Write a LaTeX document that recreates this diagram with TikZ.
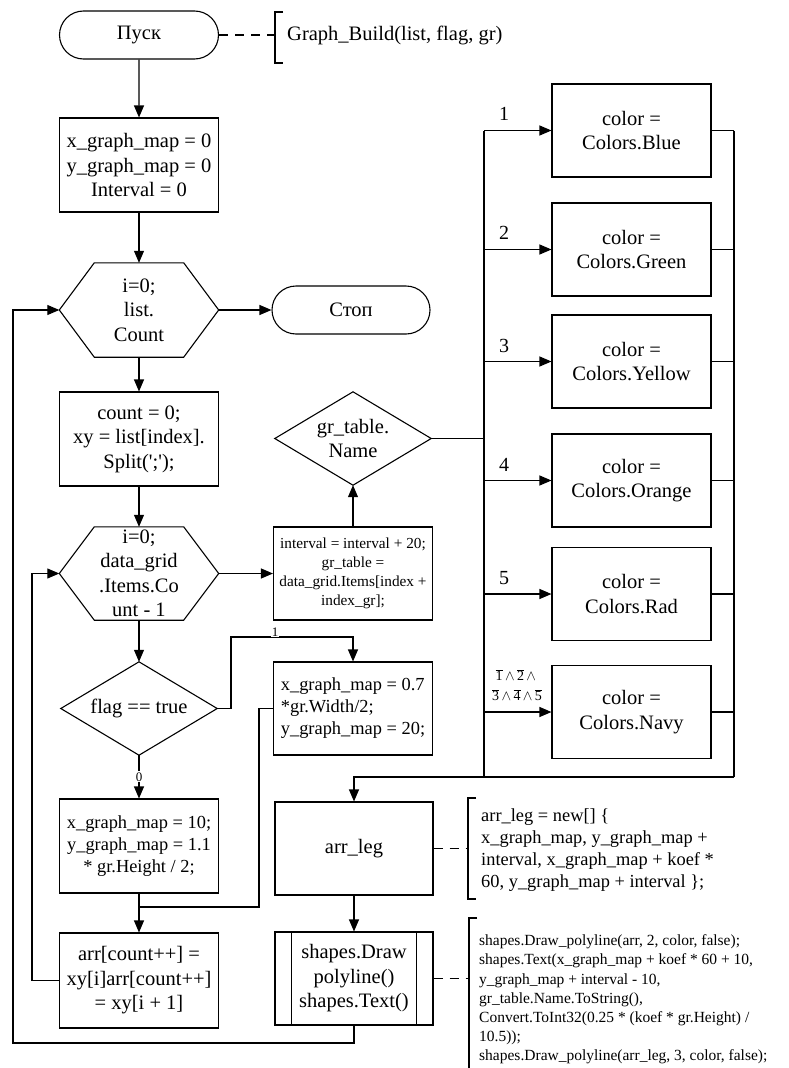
\documentclass[tikz,border=0pt]{standalone}
\usepackage{fontspec}
\setmainfont{Liberation Serif}
\usetikzlibrary{arrows.meta,shapes.misc,calc}
\newcommand{\drawhex}[1]{\draw[ln] ($(#1.north west)+(35,0)$) -- ($(#1.north east)+(-35,0)$) -- (#1.east) -- ($(#1.south east)+(-35,0)$) -- ($(#1.south west)+(35,0)$) -- (#1.west) -- cycle;}
\newcommand{\drawdia}[1]{\draw[ln] (#1.north) -- (#1.east) -- (#1.south) -- (#1.west) -- cycle;}
\newcommand{\ovd}[1]{\overline{\mbox{#1}}}
\newcommand{\andw}{\,{\wedge}\,}
\begin{document}
\begin{tikzpicture}[x=1pt,y=-1pt,
  every node/.style={font=\fontsize{20.5}{24.5}\selectfont, inner sep=0pt},
  ln/.style={line width=1.1pt},
  arr/.style={ln,-{Triangle[length=12pt,width=10pt]}},
  dsh/.style={ln,dash pattern=on 9pt off 7pt},
  box/.style={draw,ln,rectangle,minimum width=159pt,minimum height=94pt,align=center},
  term/.style={draw,ln,rounded rectangle,minimum width=159pt,minimum height=48pt},
  hexn/.style={rectangle,minimum width=159pt,minimum height=94pt,align=center},
  dian/.style={rectangle,minimum width=156pt,minimum height=93pt,align=center},
  midfont/.style={font=\fontsize{18.4}{22}\selectfont},
  smallfont/.style={font=\fontsize{15.3}{19}\selectfont},
  lab/.style={font=\fontsize{20}{24}\selectfont},
  tinylab/.style={font=\fontsize{13}{15}\selectfont, fill=white, inner sep=1pt},
]
\useasboundingbox (0,0) rectangle (789,1068);

% column 1
\node[term] (start) at (139,35) {Пуск};
\node[box] (b1) at (139,165) {x\_graph\_map = 0\\y\_graph\_map = 0\\Interval = 0};
\node[hexn] (h1) at (139,310) {i=0;\\list.\\Count};
\node[box] (b2) at (139,439) {count = 0;\\xy = list[index].\\Split(\textquotesingle;\textquotesingle);};
\node[hexn,minimum height=93pt] (h2) at (139,573.5) {i=0;\\data\_grid\\.Items.Co\\unt - 1};
\node[dian] (flag) at (139,708.5) {flag == true};
\node[box,midfont] (b3) at (139,846) {x\_graph\_map = 10;\\y\_graph\_map = 1.1\\* gr.Height / 2;};
\node[box,minimum height=95pt] (arrb) at (139,980.5) {arr[count++] =\\xy[i]arr[count++]\\= xy[i + 1]};

% column 2
\node[term,minimum width=158pt] (stop) at (351,310) {Стоп};
\node[dian] (gdia) at (353,438.5) {gr\_table.\\Name};
\node[box,smallfont,minimum height=93pt] (intv) at (353,573.5) {interval = interval + 20;\\gr\_table =\\data\_grid.Items[index +\\index\_gr];};
\node[box,midfont,minimum height=93pt,align=left] (xg) at (353,708.5) {x\_graph\_map = 0.7\\*gr.Width/2;\\y\_graph\_map = 20;};
\node[box,minimum height=93pt,minimum width=158pt] (aleg) at (354,848.5) {arr\_leg};
\node[box,minimum height=93pt,minimum width=158pt] (sub) at (354,978.5) {shapes.Draw\\polyline()\\shapes.Text()};

% column 3
\node[box,minimum height=93pt] (c1) at (631.5,130.5) {color =\\Colors.Blue};
\node[box,minimum height=93pt] (c2) at (631.5,249.5) {color =\\Colors.Green};
\node[box,minimum height=93pt] (c3) at (631.5,361.5) {color =\\Colors.Yellow};
\node[box,minimum height=93pt] (c4) at (631.5,480.5) {color =\\Colors.Orange};
\node[box,minimum height=93pt] (c5) at (631.5,594) {color =\\Colors.Rad};
\node[box,minimum height=93pt] (c6) at (631.5,712) {color =\\Colors.Navy};

% shapes drawn from anchors
\drawhex{h1}
\drawhex{h2}
\drawdia{gdia}
\drawdia{flag}
\draw[ln] ($(sub.north west)+(17,0)$) -- ($(sub.south west)+(17,0)$);
\draw[ln] ($(sub.north east)+(-17,0)$) -- ($(sub.south east)+(-17,0)$);

% main flow
\draw[arr] (start) -- (b1);
\draw[arr] (b1) -- (h1);
\draw[arr] (h1) -- (stop);
\draw[arr] (h1) -- (b2);
\draw[arr] (b2) -- (h2);
\draw[arr] (h2) -- (intv);
\draw[arr] (intv) -- (gdia);
\draw[arr] (h2) -- (flag);
\coordinate (fj) at (231,637);
\draw[arr] (flag.east) -| (fj) -| (xg.north);
\node[tinylab] (l1) at (275,632) {1};
\draw[arr] (flag) -- (b3) node[tinylab,midway] (l0) {0};
\draw[arr] (b3) -- (arrb);
\coordinate (mj) at (259,907);
\draw[ln] (xg.west) -| (mj) -- (mj -| b3.south);
\coordinate (lp2) at (32,0);
\draw[arr] (arrb.west) -- (arrb.west -| lp2) |- (h2.west);
\coordinate (lp1) at (13,1043);
\draw[arr] (sub.south) |- (lp1) |- (h1.west);

% switch buses
\coordinate (busLtop) at (484,130.5);
\coordinate (busL) at (484,777);
\coordinate (busRtop) at (734,130.5);
\coordinate (busR) at (734,777);
\draw[ln] (gdia.east) -- (gdia.east -| busL);
\draw[ln] (busLtop) -- (busL);
\draw[ln] (busRtop) -- (busR);
\foreach \c in {c1,c2,c3,c4,c5,c6} {
  \draw[arr] (\c.west -| busL) -- (\c.west);
  \draw[ln] (\c.east) -- (\c.east -| busR);
}
\draw[arr] (busR) -| (aleg.north);
\draw[arr] (aleg) -- (sub);

\node[lab] (n1) at (504,114) {1};
\node[lab] (n2) at (504,233) {2};
\node[lab] (n3) at (504,346) {3};
\node[lab] (n4) at (504,465) {4};
\node[lab] (n5) at (504,578) {5};
\node[font=\fontsize{14}{20}\selectfont,align=center] (n6) at (517,685) {$\ovd{1}\andw\ovd{2}\andw$\\$\ovd{3}\andw\ovd{4}\andw\ovd{5}$};

% comments
\node[anchor=west] (cm0) at (287,35) {Graph\_Build(list, flag, gr)};
\coordinate (k0) at (275,35);
\draw[dsh] (start.east) -- (k0);
\draw[ln] (283,12) -- (275,12) -- (275,63) -- (283,63);

\node[anchor=west,midfont,align=left] (cm1) at (481,850.5) {arr\_leg = new[] \{\\x\_graph\_map, y\_graph\_map +\\interval, x\_graph\_map + koef *\\60, y\_graph\_map + interval \};};
\coordinate (k1) at (468,848.5);
\draw[dsh] (aleg.east) -- (k1);
\draw[ln] (476,798) -- (468,798) -- (468,899) -- (476,899);

\node[anchor=west,font=\fontsize{15.5}{19.2}\selectfont,align=left] (cm2) at (479,999.5) {shapes.Draw\_polyline(arr, 2, color, false);\\shapes.Text(x\_graph\_map + koef * 60 + 10,\\y\_graph\_map + interval - 10,\\gr\_table.Name.ToString(),\\Convert.ToInt32(0.25 * (koef * gr.Height) /\\10.5));\\shapes.Draw\_polyline(arr\_leg, 3, color, false);};
\coordinate (k2) at (469,978.5);
\draw[dsh] (sub.east) -- (k2);
\draw[ln] (477,918) -- (469,918) -- (469,1070);
\end{tikzpicture}
\end{document}
